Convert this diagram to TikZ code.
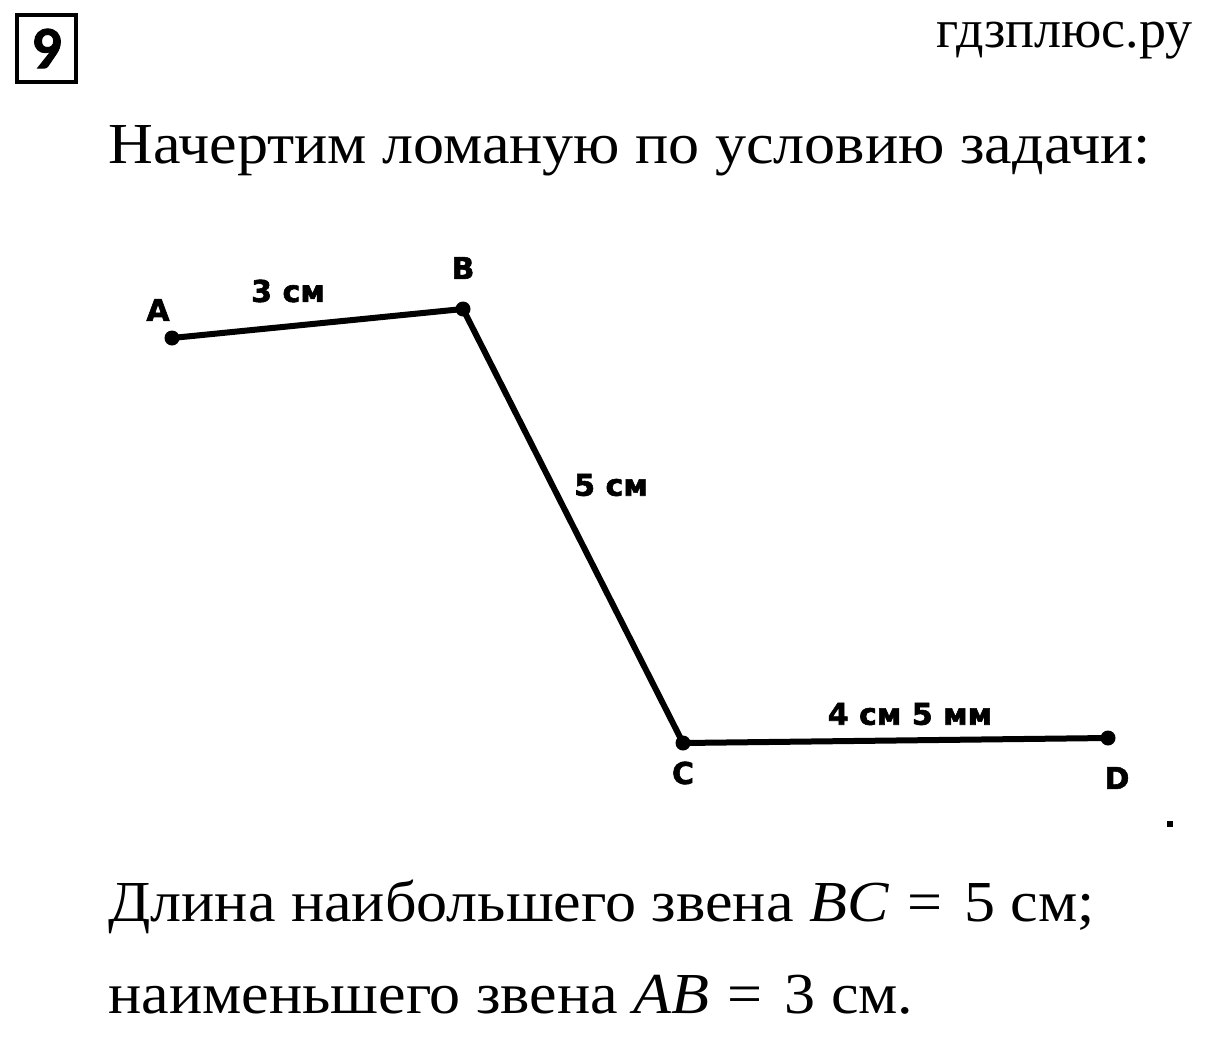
\documentclass[tikz,border=0pt]{standalone}
\usepackage{fontspec}
\setmainfont{Liberation Serif}[FakeStretch=1.07]
\newfontfamily\sitefont{Liberation Serif}
\newfontfamily\lblfont{DejaVu Sans}[BoldFont=DejaVu Sans Bold,BoldFeatures={FakeBold=2}]
\newfontfamily\numfont{Carlito}[BoldFeatures={FakeBold=1.5}]

\tikzset{every picture/.style={line width=0.75pt}}
\tikzset{
  vertex/.style={circle,fill=black,inner sep=0pt,minimum size=15},
  segment/.style={line width=6,line cap=round},
  ptlabel/.style={inner sep=0pt,font=\lblfont\bfseries\fontsize{30}{30}\selectfont},
  bodytext/.style={inner sep=0pt,anchor=base west,font=\fontsize{58}{58}\selectfont}
}
\newcommand{\eqsign}{\hspace{18pt}=\hspace{22pt}}

\begin{document}
\begin{tikzpicture}[x=1pt,y=1pt,yscale=-1,xscale=1]
\useasboundingbox (0,0) rectangle (1206,1041);

%Shape: Rectangle (task number)
\node [draw,line width=4,minimum width=59,minimum height=67,inner sep=0pt,font=\numfont\bfseries\fontsize{60}{60}\selectfont] (num) at (46.5,48.5) {9};
% Text Node
\node [inner sep=0pt,anchor=base east,font=\sitefont\fontsize{54}{54}\selectfont] (site) at (1193,48) {гдзплюс.ру};
% Text Node
\node [bodytext] (title) at (108,163) {Начертим ломаную по условию задачи:};

%Points
\node [vertex] (A) at (172,338) {};
\node [vertex] (B) at (463,309) {};
\node [vertex] (C) at (683,743) {};
\node [vertex] (D) at (1108,738) {};

%Straight Lines
\draw [segment] (A.center) -- (B.center) -- (C.center) -- (D.center);

% Text Node
\node [ptlabel] (labA) at (158,310) {A};
\node [ptlabel] (labB) at (463,268) {B};
\node [ptlabel] (labC) at (683,773) {C};
\node [ptlabel] (labD) at (1117,778) {D};
% Text Node
\node [ptlabel] (lenAB) at (288,291) {3 см};
\node [ptlabel] (lenBC) at (611,485) {5 см};
\node [ptlabel] (lenCD) at (910,714) {4 см 5 мм};

%Shape: small dot
\node [fill=black,inner sep=0pt,minimum size=6] (dot) at (1170,824) {};

% Text Node
\node [bodytext] (ans1) at (108,921) {Длина наибольшего звена \textit{BC}\eqsign 5 см;};
% Text Node
\node [bodytext] (ans2) at (108,1013) {наименьшего звена \textit{AB}\eqsign 3 см.};

\end{tikzpicture}
\end{document}
